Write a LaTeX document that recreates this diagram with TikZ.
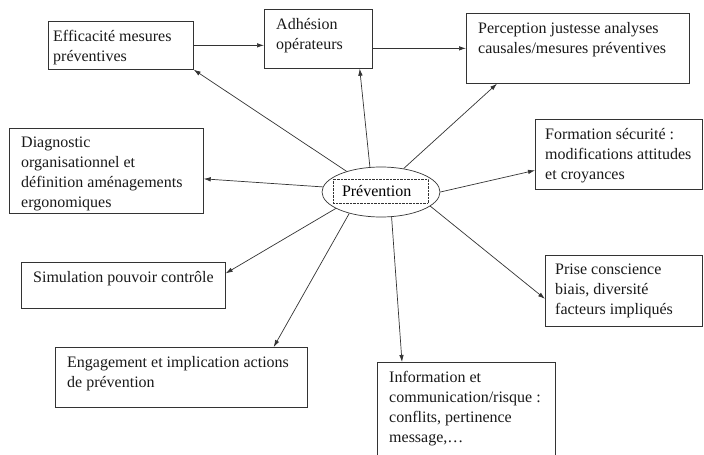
\documentclass[tikz,border=0pt]{standalone}
\usepackage{fontspec}
\setmainfont{Liberation Serif}
\usetikzlibrary{shapes.geometric,arrows.meta}

\begin{document}
\begin{tikzpicture}[
        x=1pt, y=-1pt,
        font=\fontsize{16}{20}\selectfont,
        boite/.style={draw=black!80, line width=0.7pt, rectangle, anchor=north west,
          inner sep=0pt},
        texte/.style={anchor=north west, align=left, inner xsep=12pt, inner ysep=9pt,
          text=black!90},
        fleche/.style={draw=black!80, line width=0.7pt, -{Latex[length=7pt,width=4.5pt]}}
      ]
        % cadre de la page
        \path[use as bounding box, clip] (0,0) rectangle (704,455);
        % noeud central
        \node[ellipse, draw=black!80, line width=0.7pt, minimum width=118pt,
          minimum height=50pt] (prev) at (381,192) {};
        \node[draw=black!80, densely dotted, text width=77pt, inner xsep=9pt,
          minimum height=24pt, align=left] (prevtxt) at (380.5,191) {Prévention};
        % boites du haut
        \node[boite, minimum width=145pt, minimum height=48pt,
          label={[texte, inner xsep=5pt]north west:{Efficacité mesures\\préventives}}] (eff) at (48,21) {};
        \node[boite, minimum width=108pt, minimum height=59pt,
          label={[texte]north west:{Adhésion\\opérateurs}}] (adh) at (264,9) {};
        \node[boite, minimum width=223pt, minimum height=70pt,
          label={[texte]north west:{Perception justesse analyses\\causales/mesures préventives}}] (perc) at (466,13) {};
        % boites de gauche
        \node[boite, minimum width=194pt, minimum height=85pt,
          label={[texte]north west:{Diagnostic\\organisationnel et\\définition aménagements\\ergonomiques}}] (diag) at (9,128) {};
        \node[boite, minimum width=204pt, minimum height=46pt,
          label={[texte]north west:{Simulation pouvoir contrôle}}] (simu) at (21,262) {};
        \node[boite, minimum width=252pt, minimum height=60pt,
          label={[texte]north west:{Engagement et implication actions\\de prévention}}] (enga) at (55,347) {};
        % boites de droite
        \node[boite, minimum width=167pt, minimum height=70pt,
          label={[texte, inner xsep=10pt]north west:{Formation sécurité :\\modifications attitudes\\et croyances}}] (form) at (535,119) {};
        \node[boite, minimum width=157pt, minimum height=71pt,
          label={[texte, inner xsep=10pt]north west:{Prise conscience\\biais, diversité\\facteurs impliqués}}] (prise) at (545,255) {};
        \node[boite, minimum width=178pt, minimum height=100pt,
          label={[texte]north west:{Information et\\communication/risque :\\conflits, pertinence\\message,…}}] (info) at (377,362) {};
        % fleches entre boites du haut
        \draw[fleche] (eff.east) -- (eff.east -| adh.west);
        \draw[fleche] (perc.west -| adh.east) -- (perc.west);
        % fleches depuis la prevention
        \draw[fleche] (prev.149) -- (eff.south east);
        \draw[fleche] (prev.114) -- ([xshift=-13pt]adh.south east);
        \draw[fleche] (prev.46) -- ([xshift=31pt]perc.south west);
        \draw[fleche] (prev.east) -- ([yshift=-16pt]form.west);
        \draw[fleche] (prev.-16) -- ([yshift=-8pt]prise.west);
        \draw[fleche] (prev.-67) -- ([xshift=25pt]info.north west);
        \draw[fleche] (prev.214) -- ([xshift=-34pt]enga.north east);
        \draw[fleche] (prev.200) -- ([yshift=12pt]simu.east);
        \draw[fleche] (prev.175) -- ([yshift=-8pt]diag.east);
      \end{tikzpicture}
\end{document}
